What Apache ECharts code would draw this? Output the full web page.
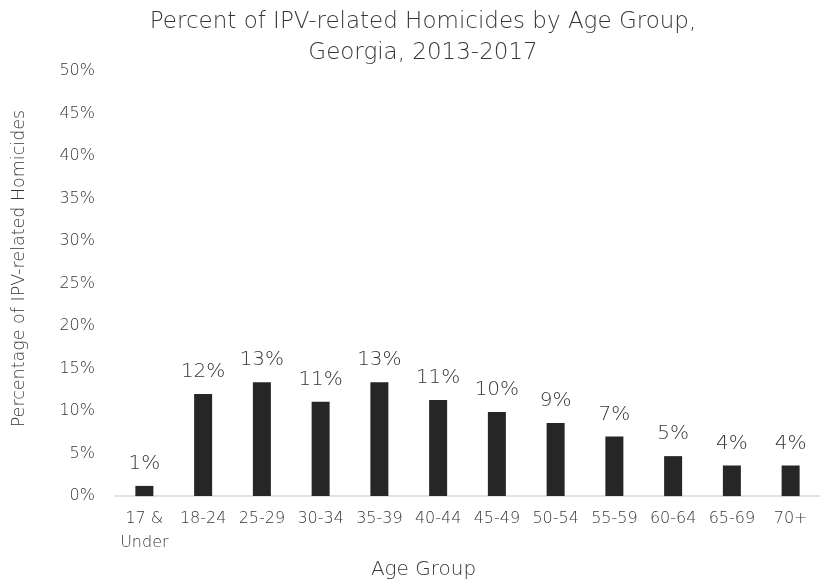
<!DOCTYPE html>
<html>
<head>
<meta charset="utf-8">
<title>Percent of IPV-related Homicides by Age Group</title>
<script src="https://cdn.jsdelivr.net/npm/echarts@6/dist/echarts.min.js"></script>
<style>
  html, body { margin: 0; padding: 0; background: #fff; }
  #chart { width: 820px; height: 585px; }
</style>
</head>
<body>
<div id="chart"></div>
<script>
// Age groups along the x axis
const ageGroups = ['17 &\nUnder', '18-24', '25-29', '30-34', '35-39', '40-44', '45-49', '50-54', '55-59', '60-64', '65-69', '70+'];
// Share of IPV-related homicides per age group (percent)
const percentValues = [1.2, 12.0, 13.4, 11.1, 13.4, 11.3, 9.9, 8.6, 7.0, 4.7, 3.6, 3.6];
// Y axis range in percent
const yMin = 0;
const yMax = 50;
const yStep = 5;

const textColor = '#363636';
const fontFamily = '"DejaVu Sans", sans-serif';
const thin = 200;

const chart = echarts.init(document.getElementById('chart'), null, { renderer: 'canvas' });
chart.setOption({
  backgroundColor: '#ffffff',
  animation: false,
  textStyle: { fontFamily: fontFamily, color: textColor },
  title: {
    text: 'Percent of IPV-related Homicides by Age Group,\nGeorgia, 2013-2017',
    left: 418,
    textAlign: 'center',
    top: 2,
    textStyle: { fontSize: 23, fontWeight: thin, color: textColor, lineHeight: 31, fontFamily: fontFamily }
  },
  grid: { left: 115, top: 71, width: 710, bottom: 86 },
  xAxis: {
    type: 'category',
    data: ageGroups,
    name: 'Age Group',
    nameLocation: 'middle',
    nameGap: 58,
    nameTextStyle: { fontSize: 20, fontWeight: thin, color: textColor, padding: [0, 88, 0, 0] },
    axisLine: { lineStyle: { color: '#d9d9d9', width: 1.5 } },
    axisTick: { show: false },
    axisLabel: { interval: 0, fontSize: 16, lineHeight: 24, color: textColor, margin: 11, fontWeight: thin }
  },
  yAxis: {
    type: 'value',
    min: yMin,
    max: yMax,
    interval: yStep,
    name: 'Percentage of IPV-related Homicides',
    nameLocation: 'middle',
    nameGap: 87,
    nameRotate: 90,
    nameTextStyle: { fontSize: 17.5, fontWeight: thin, color: textColor, padding: [0, 0, 0, 30] },
    axisLine: { show: false },
    axisTick: { show: false },
    splitLine: { show: false },
    axisLabel: { formatter: '{value}%', fontSize: 16, color: textColor, margin: 20, fontWeight: thin }
  },
  series: [{
    type: 'bar',
    data: percentValues,
    barWidth: 18,
    itemStyle: { color: '#262626' },
    label: {
      show: true,
      position: 'top',
      distance: 12,
      fontSize: 20,
      fontWeight: thin,
      color: textColor,
      formatter: p => Math.round(p.value) + '%'
    }
  }]
});
</script>
</body>
</html>
